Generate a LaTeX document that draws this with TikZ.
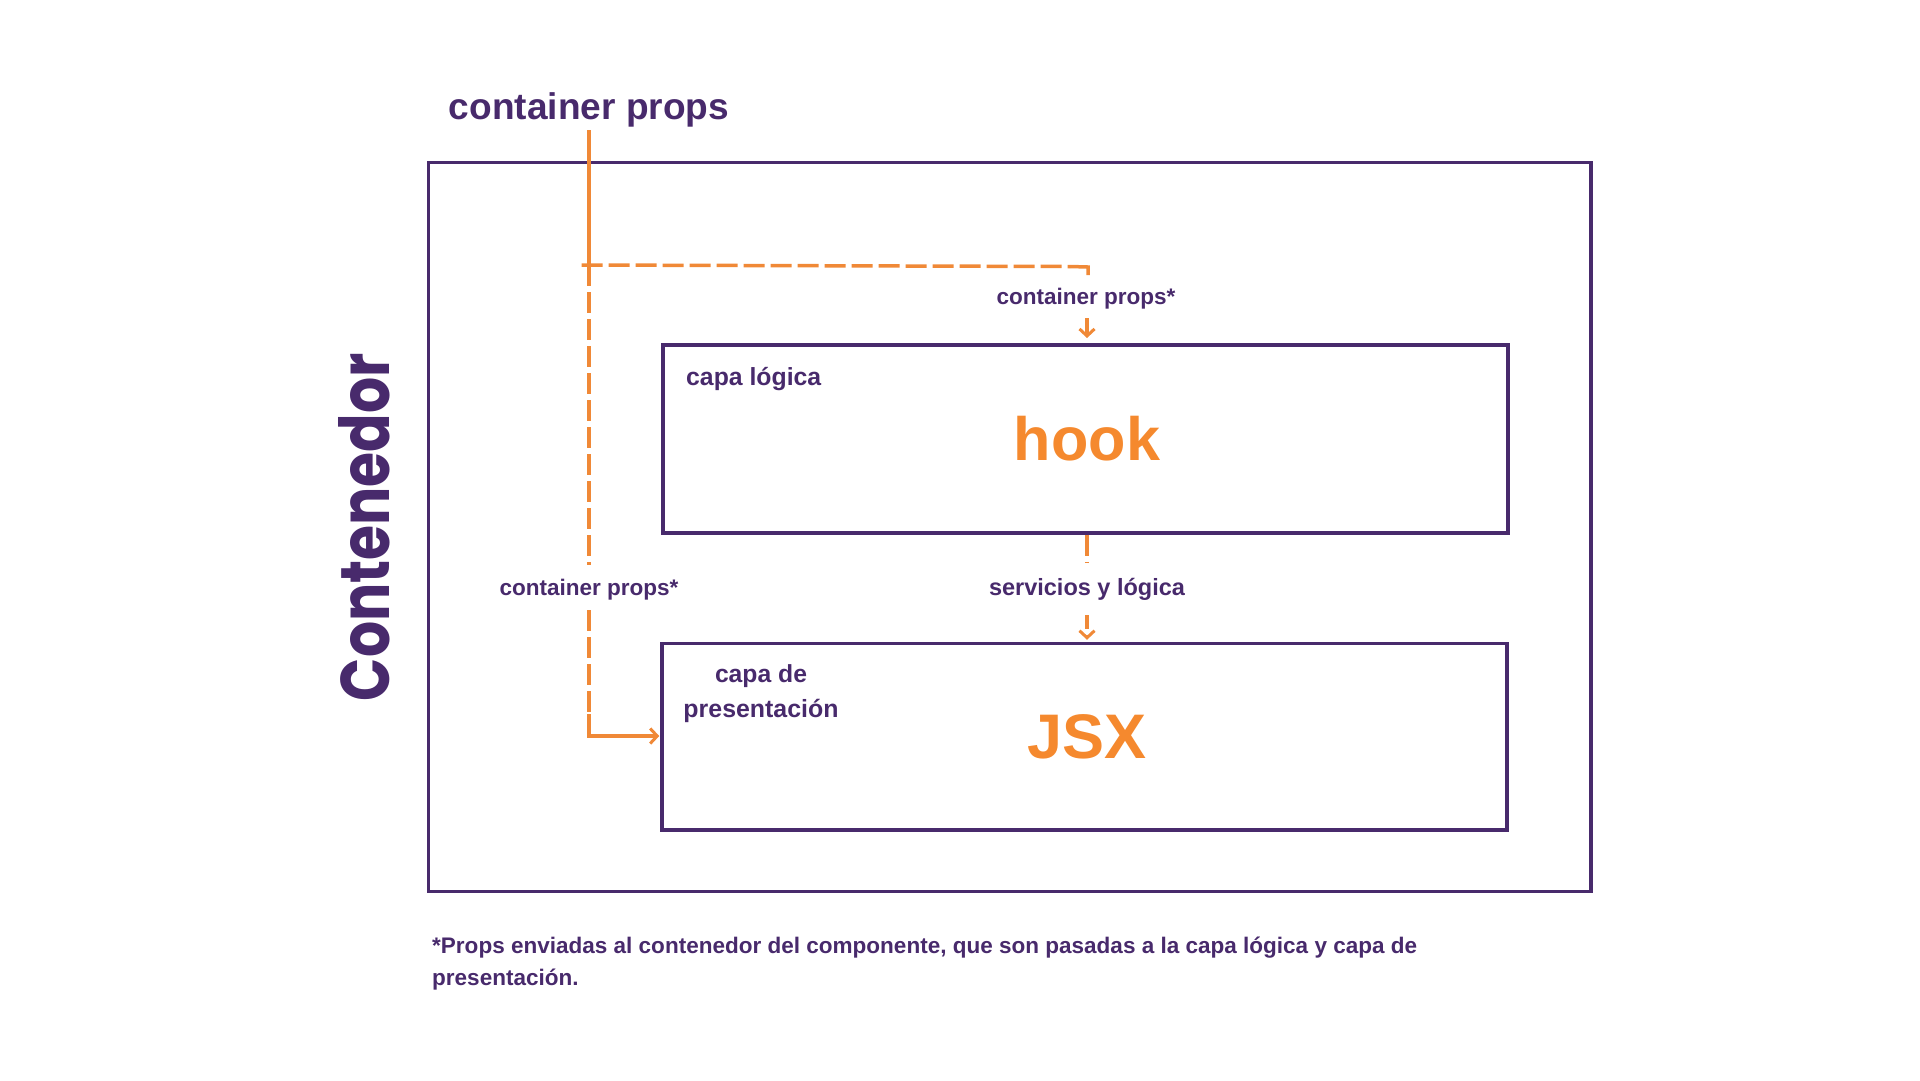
\documentclass[tikz,border=0pt]{standalone}
\usepackage{fontspec}
\usepackage{graphicx}
\usetikzlibrary{arrows.meta}
\newfontfamily\labf{Liberation Sans}
\newfontfamily\popf{Poppins}
\definecolor{purp}{RGB}{72,42,108}
\definecolor{oran}{RGB}{240,137,55}
\definecolor{orant}{RGB}{245,137,46}
\newcommand{\fitw}[2]{\resizebox{#1}{!}{#2}}
\newsavebox\fnbox
\newlength\fnw
\tikzset{
  box/.style={draw=purp, line width=3.5pt, fill=none, inner sep=0pt},
  lbl/.style={inner sep=0pt, text=purp, font=\labf\bfseries, anchor=base},
  big/.style={inner sep=0pt, text=orant, font=\labf\bfseries, anchor=base},
  oline/.style={draw=oran, line width=3.5pt},
  odash/.style={draw=oran, line width=3.5pt, dash pattern=on 21pt off 6pt},
  barb/.style={-{Straight Barb[length=7pt,width=15pt,line width=3pt]}},
}
\begin{document}
\sbox\fnbox{\color{purp}\labf\bfseries\fontsize{22}{26}\selectfont *Props enviadas al contenedor del componente, que son pasadas a la capa lógica y capa de}%
\setlength\fnw{\wd\fnbox}%
\pgfmathsetmacro\fnscale{985/\fnw}%
\begin{tikzpicture}[x=1pt,y=-1pt]
\useasboundingbox (0,0) rectangle (1920,1080);
% boxes
\node[box, minimum width=1162.5pt, minimum height=729pt] (outer) at (1009.75,527) {};
\node[box, minimum width=845pt, minimum height=188pt] (hook) at (1085.5,439) {};
\node[box, minimum width=845pt, minimum height=186.5pt] (jsx) at (1084.5,736.75) {};
% texts
\node[lbl] (title) at (589,119.3) {\fitw{280pt}{container props}};
\node[lbl] (lab1) at (1086,304) {\fitw{179pt}{container props*}};
\node[lbl] (lab2) at (589,595) {\fitw{179pt}{container props*}};
\node[lbl] (lab3) at (1087,595) {\fitw{196pt}{servicios y lógica}};
\node[lbl, anchor=base west] (capal) at (686,385) {\fitw{135pt}{capa lógica}};
\node[big] (hooktxt) at (1087,460) {\fitw{146pt}{hook}};
\node[lbl] (capad1) at (761,682) {\fitw{92pt}{capa de}};
\node[lbl] (capad2) at (761,717) {\fitw{155pt}{presentación}};
\node[big] (jsxtxt) at (1087,758) {\fitw{119pt}{JSX}};
\node[inner sep=0pt, text=purp, rotate=90, anchor=base] (cont) at (389,527) {\resizebox{348pt}{51pt}{\popf\bfseries Contenedor}};
% footnote
\node[inner sep=0pt, text=purp, anchor=base west] (fn1) at (432,953) {\scalebox{\fnscale}{\usebox\fnbox}};
\node[inner sep=0pt, text=purp, anchor=base west] (fn2) at (432,985) {\scalebox{\fnscale}{\labf\bfseries\fontsize{22}{26}\selectfont presentación.}};
% connector points
\coordinate (ctop) at (589,130);
\coordinate (junc) at (589,265);
\coordinate (jl) at (581.5,265);
\coordinate (tr) at (1088,267);
\coordinate (trc) at (1070,266.5);
\coordinate (trd) at (1088,275);
\coordinate (a1s) at (1087,318);
\coordinate (a1e) at (1087,338);
\coordinate (v1e) at (589,565);
\coordinate (v2s) at (589,610);
\coordinate (v2e) at (589,714);
\coordinate (corner) at (589,736);
\coordinate (ain) at (hook.west |- corner);
\coordinate (m1e) at (1087,562);
\coordinate (m2s) at (1087,615);
% connectors
\draw[oline] (ctop) -- (junc);
\draw[odash] (jl) -- (trc);
\draw[oline] (trc) -- (tr) -- (trd);
\draw[oline, barb] (a1s) -- (a1e);
\draw[odash] (junc) -- (v1e);
\draw[odash] (v2s) -- (v2e);
\draw[oline, barb, shorten >=2pt] (v2e) -- (corner) -- (ain);
\draw[odash] (hook.south -| m1e) -- (m1e);
\draw[odash, barb, shorten >=2pt, dash pattern=on 14pt off 6pt] (m2s) -- (jsx.north -| m2s);
\end{tikzpicture}
\end{document}
